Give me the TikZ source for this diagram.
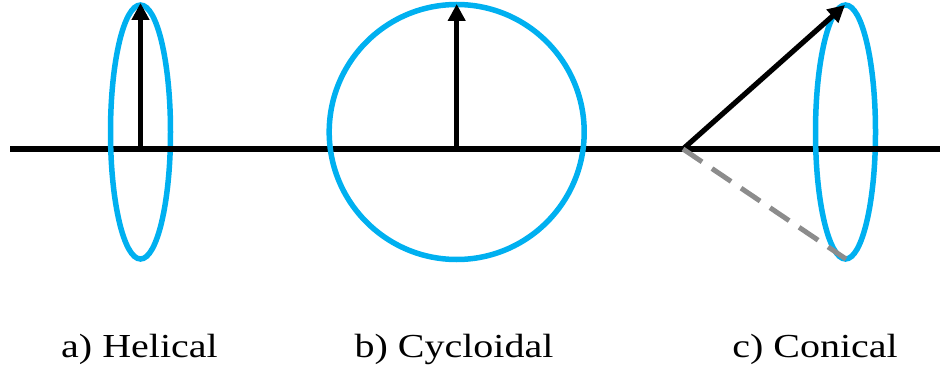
\documentclass[tikz,border=0pt]{standalone}
\usepackage{fontspec}
\setmainfont{Liberation Serif}
\usetikzlibrary{arrows.meta}
\definecolor{ringblue}{HTML}{00B0F0}
\definecolor{dashgray}{HTML}{8C8C8C}
\begin{document}
\begin{tikzpicture}[x=1pt,y=-1pt,
  ring/.style={draw=ringblue,line width=5.5pt},
  axisline/.style={line width=6pt},
  vec/.style={line width=5.2pt,-{Triangle[width=17pt,length=17pt]}},
  dashvec/.style={draw=dashgray,line width=5pt,dash pattern=on 23pt off 12pt},
  lbl/.style={font=\fontsize{40}{44}\selectfont,anchor=base,inner sep=0pt}]
\useasboundingbox (0,0) rectangle (940,369);
% axis
\coordinate (L) at (10,149);
\coordinate (R) at (940,149);
\draw[axisline] (L) -- (R);
% centres
\coordinate (ca) at (140.5,132);
\coordinate (cb) at (456.7,132);
\coordinate (cc) at (845.5,132);
% rings
\draw[ring] (ca) ellipse [x radius=30pt, y radius=127pt];
\draw[ring] (cb) circle [radius=127.5pt];
\draw[ring] (cc) ellipse [x radius=30pt, y radius=127pt];
% axis in front of the back side of the rings
\coordinate (a1) at (164,149); \coordinate (a2) at (180,149);
\coordinate (c1) at (869,149); \coordinate (c2) at (885,149);
\draw[axisline] (a1) -- (a2);
\draw[axisline] (c1) -- (c2);
% vectors
\coordinate (oa) at (140.5,149); \coordinate (ta) at (140.5,3);
\coordinate (ob) at (456.7,149); \coordinate (tb) at (456.7,4);
\coordinate (oc) at (683,149);   \coordinate (tc) at (845,5);
\coordinate (bc) at (846,259);
\draw[vec] (oa) -- (ta);
\draw[vec] (ob) -- (tb);
\draw[vec] (oc) -- (tc);
\draw[dashvec] (oc) -- (bc);
% labels
\node[lbl] (la) at (139.5,357) {\scalebox{1}[0.84]{a) Helical}};
\node[lbl] (lb) at (454,357) {\scalebox{1}[0.84]{b) Cycloidal}};
\node[lbl] (lc) at (815,357) {\scalebox{1}[0.84]{c) Conical}};
\end{tikzpicture}
\end{document}
